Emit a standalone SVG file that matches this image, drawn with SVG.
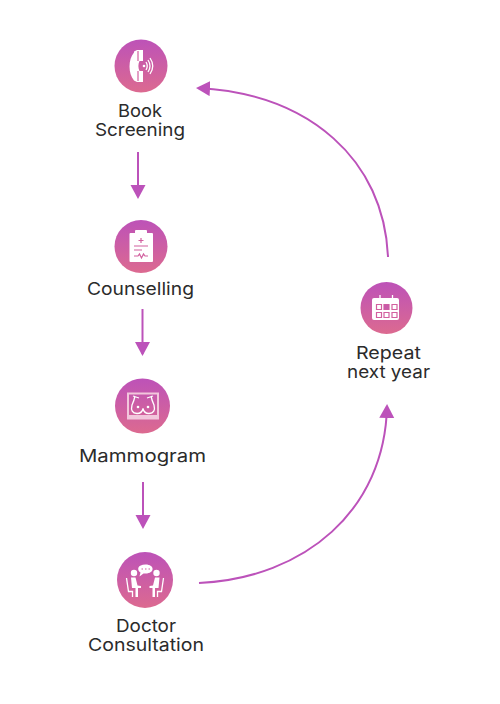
<svg xmlns="http://www.w3.org/2000/svg" width="500" height="704" viewBox="0 0 500 704">
<defs>
<linearGradient id="g" x1="0" y1="0" x2="0" y2="1"><stop offset="0" stop-color="#bd52b8"/><stop offset="1" stop-color="#dc6a90"/></linearGradient>
<marker id="a" markerUnits="userSpaceOnUse" markerWidth="16" markerHeight="16" refX="12" refY="7.500" orient="auto"><path d="M0 0L14 7.500L0 15Z" fill="#bc52ba"/></marker>
</defs>
<style>
text{font-family:Inter,"Liberation Sans",sans-serif;font-size:17.500px;fill:#2b2b2b;text-anchor:middle}
.c{fill:none;stroke:#bc52ba;stroke-width:2;marker-end:url(#a)}
.w{fill:#fff}.l{fill:none;stroke:#fff;stroke-width:1.300}.p{stroke:#d2609f;stroke-width:1.200;fill:none}
</style>
<rect width="500" height="704" fill="#fff"/>
<g id="connectors">
<path class="c" d="M138 152V197"/>
<path class="c" d="M142.500 309V354"/>
<path class="c" d="M143 482V527"/>
<path class="c" d="M388 257C384 160 310 94 198 88"/>
<path class="c" d="M199 583C305 578 385 510 387 406"/>
</g>
<g id="book-screening">
<circle cx="141" cy="66" r="26.500" fill="url(#g)"/>
<path class="w" d="M134 51.500l3-1.500h6v11h-3.500c-1.500 3-1.500 7 0 10h3.500v11h-6l-3-1.500c-6-7-6-21 0-28z"/>
<path class="p" d="M138 51v10M138 71v10" stroke-width="1"/>
<circle class="w" cx="144" cy="66" r="1.300"/>
<path class="l" d="M146 62q2.500 4 0 8M148 60q4 6 0 12M150 58q5.500 8 0 16"/>
<text x="140" y="117" textLength="44" lengthAdjust="spacingAndGlyphs">Book</text><text x="140" y="136" textLength="90" lengthAdjust="spacingAndGlyphs">Screening</text>
</g>
<g id="counselling">
<circle cx="141" cy="246.500" r="26.500" fill="url(#g)"/>
<rect class="w" x="129.500" y="233" width="23.500" height="29" rx="1"/><rect class="w" x="135" y="230" width="12" height="4.500" rx="1"/>
<path class="p" d="M141 238v5M138.500 240.500h5M134 246h14M134 250h8M134 256h4l1.500-2 2 4 2-4 1.500 2h3"/>
<text x="140.500" y="295" textLength="107" lengthAdjust="spacingAndGlyphs">Counselling</text>
</g>
<g id="mammogram">
<circle cx="142.500" cy="406" r="27.500" fill="url(#g)"/>
<rect x="128" y="393.500" width="30" height="25" fill="none" stroke="#f2c6dc" stroke-width="2"/>
<path d="M128 416.500h30" stroke="#f2c6dc" stroke-width="3"/>
<path class="l" d="M135 396q-1 5-3 9q-2 8 5 8.500q5 0 6-5q1 5 6 5q7-.5 5-8.500q-2-4-3-9M133 396l6 2M153 396l-6 2" stroke-width="1.500"/>
<circle class="w" cx="138" cy="407" r="1.300"/><circle class="w" cx="148" cy="407" r="1.300"/>
<text x="142.500" y="462" textLength="127" lengthAdjust="spacingAndGlyphs">Mammogram</text>
</g>
<g id="doctor-consultation">
<circle cx="145" cy="580" r="28" fill="url(#g)"/>
<path class="w" d="M145.500 564.500c9.500 0 9.500 9 0 9h-2l-4 3 1-4c-4-2.500-3-8 5-8z"/>
<path class="p" d="M141.500 569h1.500M145 569h1.500M148.500 569h1.500"/>
<circle class="w" cx="134" cy="573" r="3.200"/><circle class="w" cx="156.500" cy="573" r="3.200"/>
<path class="w" d="M131 577.500h4.500l2 8 3.500.5v2h-3v9h-2.500v-9h-3.500zM159.500 577.500h-4.500l-2 8-3.500.5v2h3v9h2.500v-9h3.500z"/>
<path class="l" d="M126.500 578l2 13.500h4v5.500M163.500 578l-2 13.500h-4v5.500"/>
<text x="146" y="632" textLength="60" lengthAdjust="spacingAndGlyphs">Doctor</text><text x="146" y="651" textLength="116" lengthAdjust="spacingAndGlyphs">Consultation</text>
</g>
<g id="repeat-next-year">
<circle cx="386.500" cy="308" r="26" fill="url(#g)"/>
<rect class="w" x="372" y="298" width="27" height="22" rx="2"/>
<path class="l" d="M380 295v6.500M392.500 295v6.500"/>
<path class="p" d="M376.500 304.500h5v5h-5zM384 304.500h5v5h-5zM392 304.500h5v5h-5zM376.500 312.500h5v5h-5zM384 312.500h5v5h-5zM392 312.500h5v5h-5z"/>
<rect x="384" y="304.500" width="5" height="5" fill="#c95aa8"/>
<text x="388.500" y="359" textLength="65" lengthAdjust="spacingAndGlyphs">Repeat</text><text x="388.500" y="378" textLength="83" lengthAdjust="spacingAndGlyphs">next year</text>
</g>
</svg>
